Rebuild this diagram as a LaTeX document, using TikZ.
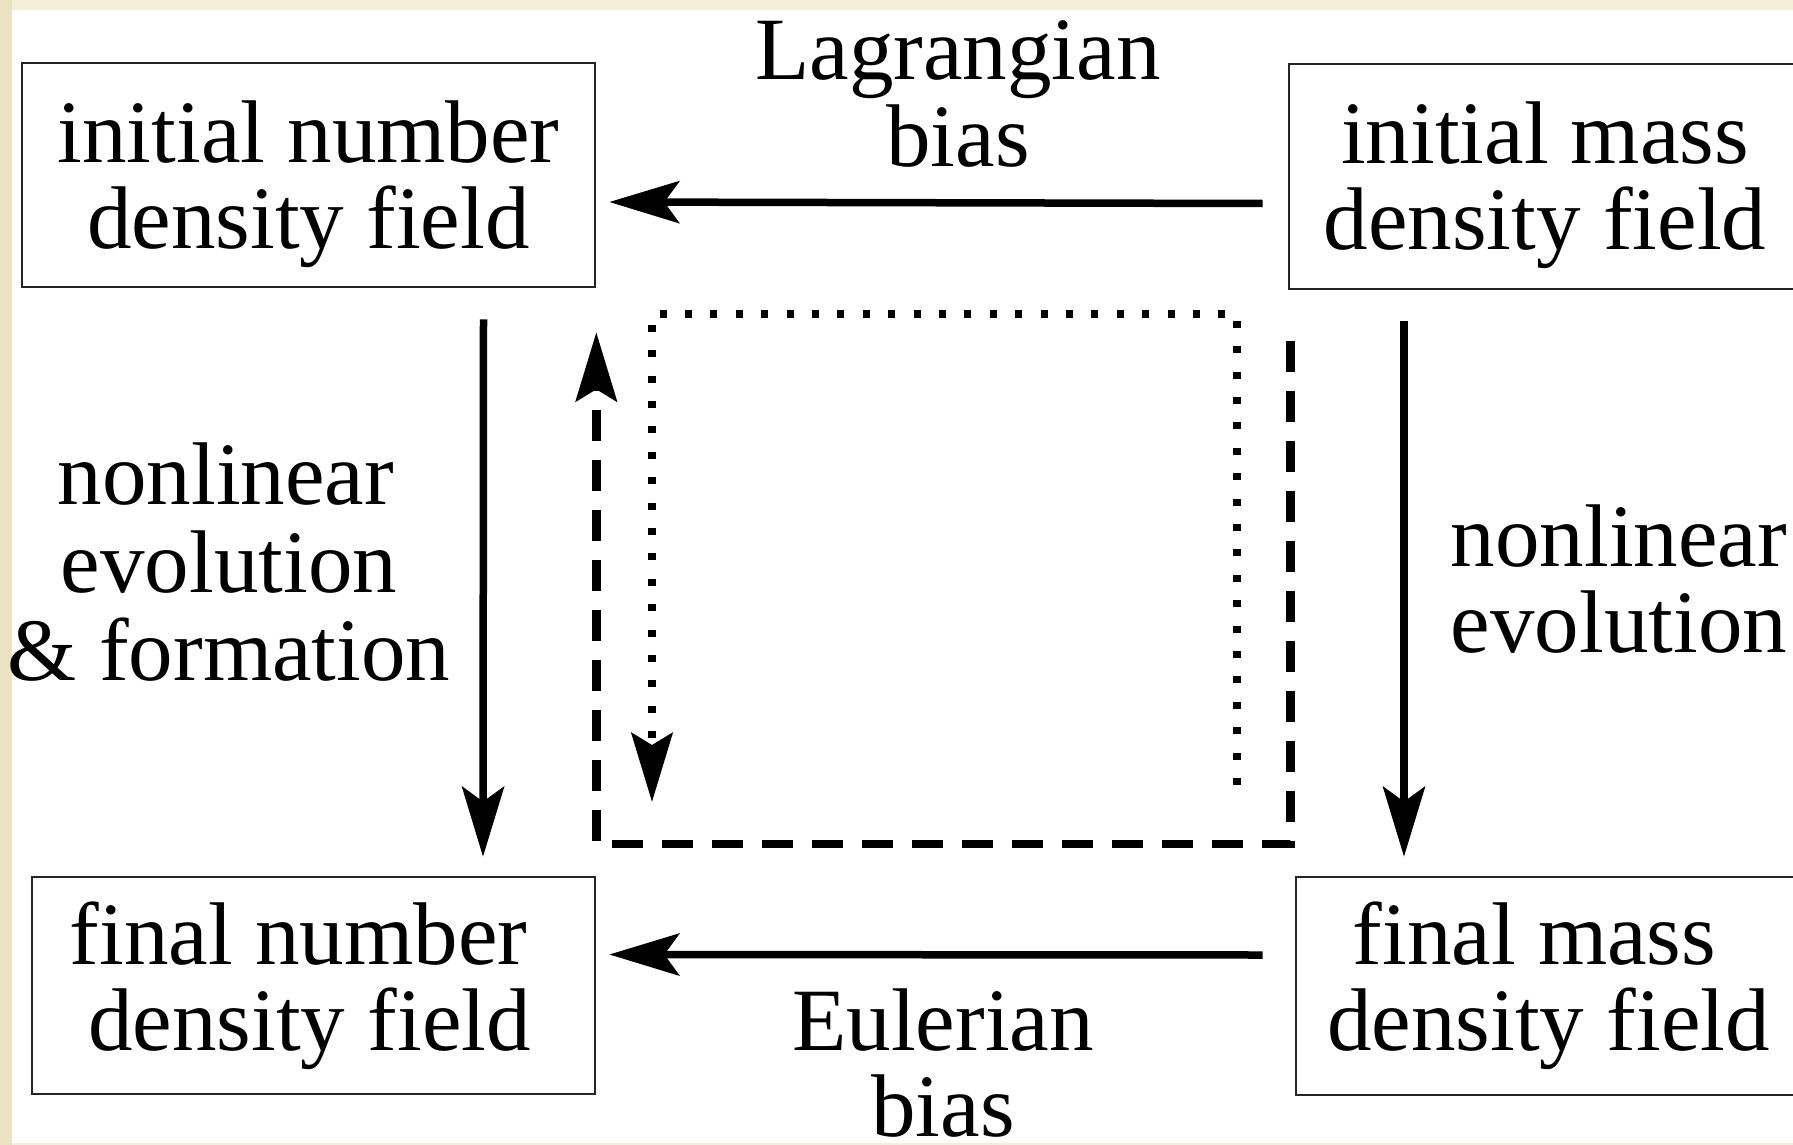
\documentclass[tikz,border=0pt]{standalone}
\usepackage{fontspec}
\setmainfont{Liberation Serif}
\usetikzlibrary{arrows.meta}
\definecolor{creamtop}{HTML}{F4EED8}
\definecolor{creamleft}{HTML}{EAE2C3}
\tikzset{
  box/.style={draw=black!85, line width=2.6pt, align=center, inner sep=0pt,
    font=\fontsize{89}{86}\selectfont},
  lbl/.style={align=center, anchor=base, inner sep=0pt,
    font=\fontsize{89}{86}\selectfont},
  solidarrow/.style={line width=7.5pt, -{Stealth[length=70pt, width=42pt, inset=15pt]}},
  dasharrow/.style={line width=8.5pt, dash pattern=on 31pt off 19pt,
    -{Stealth[length=69pt, width=41pt, inset=12pt]}},
  dotarrow/.style={line width=8pt, dash pattern=on 7pt off 18.4pt,
    -{Stealth[length=69pt, width=41pt, inset=12pt]}},
}
\begin{document}
\begin{tikzpicture}[x=1pt, y=-1pt]
\useasboundingbox (0,0) rectangle (1793,1145);
\fill[creamtop] (0,0) rectangle (1793,1145);
\fill[creamleft] (0,0) rectangle (12,1145);
\fill[white] (12,10) rectangle (1793,1143);

% boxes
\node[box, minimum width=573pt, minimum height=224pt] (tl) at (308.5,175)
  {\rule{0pt}{80pt}initial number\\density field};
\node[box, minimum width=512pt, minimum height=225pt] (tr) at (1545,176.5)
  {\rule{0pt}{80pt}initial mass\\density field};
\node[box, minimum width=563pt, minimum height=217pt] (bl) at (313.5,985.5)
  {\rule{0pt}{61pt}final number\hspace*{30pt}\\density field\hspace*{8pt}};
\node[box, minimum width=505pt, minimum height=218pt] (br) at (1548.5,986)
  {\rule{0pt}{61pt}final mass\hspace*{28pt}\\density field};

% labels (anchor at the baseline of the last line)
\node[lbl] (lag) at (958,166) {Lagrangian\\bias};
\node[lbl] (eul) at (943,1136) {Eulerian\\bias};
\node[lbl, font=\fontsize{89}{88}\selectfont] (nlf) at (229,680)
  {nonlinear\hspace*{6pt}\\evolution\hspace*{6pt}\\\& formation};
\node[lbl] (nle) at (1619,652) {nonlinear\\evolution};

% solid arrows
\draw[solidarrow] ([shift={(-25,27)}]tr.west) -- ([shift={(13,27)}]tl.east);
\draw[solidarrow] ([shift={(-32,-31)}]br.west) -- ([shift={(13,-31)}]bl.east);
\draw[solidarrow] ([shift={(175,31)}]tl.south) -- ([shift={(169.5,-19)}]bl.north);
\draw[solidarrow] ([shift={(-141,31)}]tr.south) -- ([shift={(-144.5,-19)}]br.north);

% dashed route: Lagrangian bias then nonlinear evolution
\coordinate (dA) at ([shift={(3,51)}]tr.south west);
\coordinate (dB) at ([shift={(0,44)}]tl.south east);
\draw[dasharrow] (dA) -- (dA |- 0,844) -| (dB);

% dotted route
\coordinate (oA) at (1237,785);
\coordinate (oB) at (652,802);
\draw[dotarrow] (oA) -- (oA |- 0,314) -| (oB);
\end{tikzpicture}
\end{document}
